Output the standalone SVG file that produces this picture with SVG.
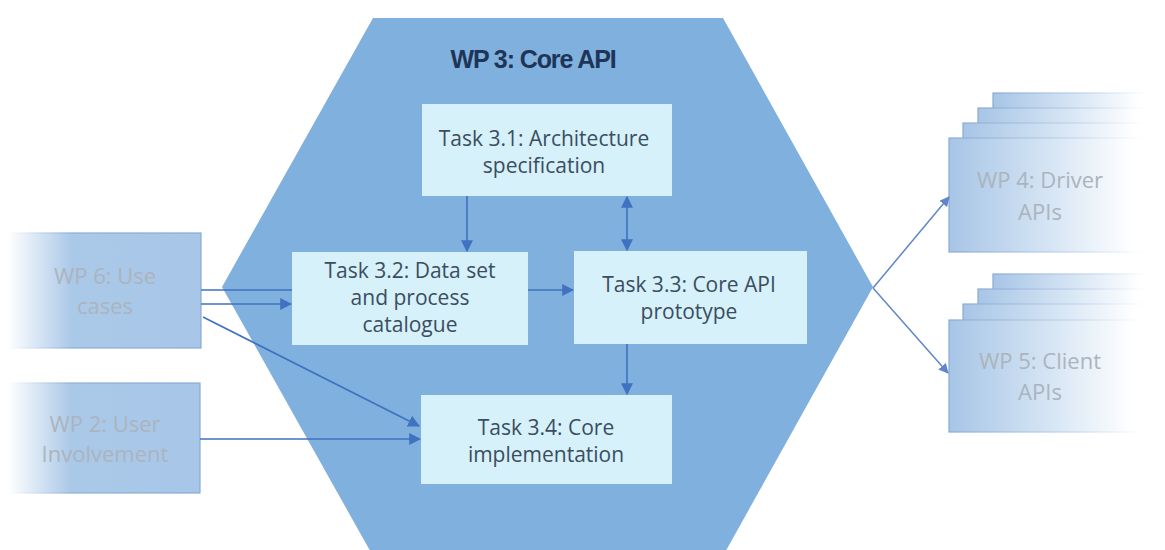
<svg xmlns="http://www.w3.org/2000/svg" width="1165" height="550" viewBox="0 0 1165 550">
<defs>
<style>
.task{fill:#d6f1fa;}
.tt{font-family:"Open Sans","Liberation Sans",sans-serif;font-size:21px;fill:#3b4d60;text-anchor:middle;}
.wt{font-family:"Open Sans","Liberation Sans",sans-serif;font-size:22px;fill:#abb4bd;text-anchor:middle;}
.in{stroke:#3f72c0;stroke-width:1.6;fill:none;}
.out{stroke:#5f86c8;stroke-width:1.5;fill:none;}
.lb{fill:url(#gl);stroke:url(#gls);stroke-width:1.2;}
.rb{fill:url(#gr);stroke:url(#grs);stroke-width:1.2;}
</style>
<linearGradient id="gl" x1="0" y1="0" x2="1" y2="0">
<stop offset="0" stop-color="#ffffff"/>
<stop offset="0.33" stop-color="#aac8e8"/>
<stop offset="1" stop-color="#a8c6e7"/>
</linearGradient>
<linearGradient id="gls" x1="0" y1="0" x2="1" y2="0">
<stop offset="0" stop-color="#ffffff"/>
<stop offset="0.33" stop-color="#8eaed8"/>
<stop offset="1" stop-color="#8aa9d4"/>
</linearGradient>
<linearGradient id="gr" x1="0" y1="0" x2="1" y2="0">
<stop offset="0" stop-color="#a7c5e6"/>
<stop offset="0.5" stop-color="#d9e7f5"/>
<stop offset="0.85" stop-color="#ffffff"/>
</linearGradient>
<linearGradient id="grs" x1="0" y1="0" x2="1" y2="0">
<stop offset="0" stop-color="#8aa9d4"/>
<stop offset="0.6" stop-color="#c8d8ee"/>
<stop offset="0.9" stop-color="#ffffff"/>
</linearGradient>
<marker id="ah2" viewBox="0 0 10 10" refX="9" refY="5" markerWidth="10" markerHeight="10" orient="auto-start-reverse" markerUnits="userSpaceOnUse">
<path d="M0,0 L10,5 L0,10 z" fill="#5f86c8"/>
</marker>
<marker id="ahb" viewBox="0 0 10 10" refX="9" refY="5" markerWidth="12" markerHeight="12" orient="auto-start-reverse" markerUnits="userSpaceOnUse">
<path d="M0,0 L10,5 L0,10 z" fill="#3f72c0"/>
</marker>
</defs>
<rect width="1165" height="550" fill="#ffffff"/>

<g id="wp3">
<polygon points="373,18 723,18 873,287 723,556 373,556 222,287" fill="#7fb0de"/>
<text x="533" y="68" font-family="Liberation Sans,Arial,sans-serif" font-size="25" font-weight="bold" fill="#1e3557" text-anchor="middle" letter-spacing="-1.1">WP 3: Core API</text>
</g>

<g id="wp6">
<rect class="lb" x="8" y="233" width="193" height="115"/>
<text class="wt" x="105" y="284">WP 6: Use</text>
<text class="wt" x="105" y="314">cases</text>
</g>

<g id="wp2">
<rect class="lb" x="8" y="383" width="192" height="110"/>
<text class="wt" x="105" y="432">WP 2: User</text>
<text class="wt" x="105" y="462">Involvement</text>
</g>

<g id="wp4">
<rect class="rb" x="993" y="93" width="172" height="114"/>
<rect class="rb" x="978" y="108" width="187" height="114"/>
<rect class="rb" x="963" y="123" width="202" height="114"/>
<rect class="rb" x="949" y="138" width="216" height="114"/>
<text class="wt" x="1040" y="188">WP 4: Driver</text>
<text class="wt" x="1040" y="220">APIs</text>
</g>

<g id="wp5">
<rect class="rb" x="993" y="274" width="172" height="113"/>
<rect class="rb" x="978" y="289" width="187" height="113"/>
<rect class="rb" x="963" y="304" width="202" height="113"/>
<rect class="rb" x="949" y="320" width="216" height="112"/>
<text class="wt" x="1040" y="369">WP 5: Client</text>
<text class="wt" x="1040" y="400">APIs</text>
</g>

<g id="t31">
<rect class="task" x="422" y="104" width="250" height="92"/>
<text class="tt" x="544" y="146">Task 3.1: Architecture</text>
<text class="tt" x="544" y="173">specification</text>
</g>

<g id="t32">
<rect class="task" x="292" y="252" width="236" height="93"/>
<text class="tt" x="410" y="278">Task 3.2: Data set</text>
<text class="tt" x="410" y="305">and process</text>
<text class="tt" x="410" y="332">catalogue</text>
</g>

<g id="t33">
<rect class="task" x="574" y="251" width="233" height="93"/>
<text class="tt" x="689" y="292">Task 3.3: Core API</text>
<text class="tt" x="689" y="319">prototype</text>
</g>

<g id="t34">
<rect class="task" x="421" y="395" width="251" height="89"/>
<text class="tt" x="546" y="435">Task 3.4: Core</text>
<text class="tt" x="546" y="462">implementation</text>
</g>

<g id="connectors">
<line class="in" x1="467" y1="196" x2="467" y2="251" marker-end="url(#ahb)"/>
<line class="in" x1="627" y1="197" x2="627" y2="250" marker-start="url(#ahb)" marker-end="url(#ahb)"/>
<line class="in" x1="528" y1="290" x2="573" y2="290" marker-end="url(#ahb)"/>
<line class="in" x1="627" y1="344" x2="627" y2="394" marker-end="url(#ahb)"/>
<line class="in" x1="201" y1="290" x2="292" y2="290"/>
<line class="in" x1="201" y1="304" x2="291" y2="304" marker-end="url(#ahb)"/>
<line class="in" x1="203" y1="317" x2="419" y2="426" marker-end="url(#ahb)"/>
<line class="in" x1="200" y1="439" x2="420" y2="439" marker-end="url(#ahb)"/>
<line class="out" x1="873" y1="288" x2="949" y2="197" marker-end="url(#ah2)"/>
<line class="out" x1="873" y1="288" x2="948" y2="373" marker-end="url(#ah2)"/>
</g>
</svg>
